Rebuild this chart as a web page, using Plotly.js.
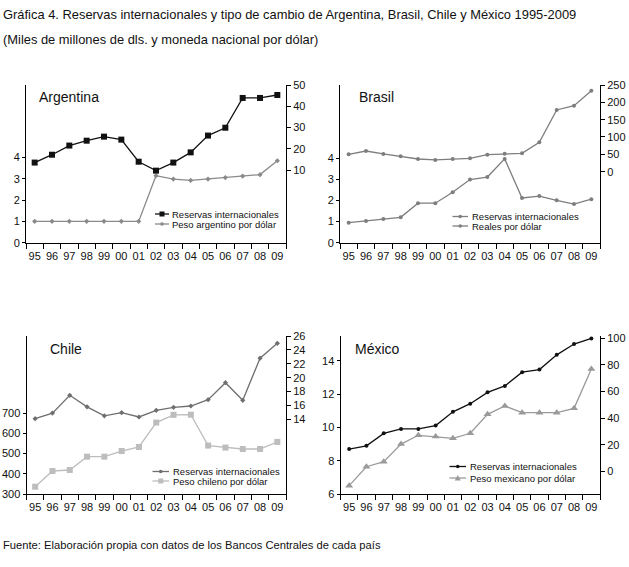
<!DOCTYPE html>
<html>
<head>
<meta charset="utf-8">
<script src="https://cdn.plot.ly/plotly-3.0.1.min.js"></script>
<style>html,body{margin:0;padding:0;background:#fff;}#chart{width:629px;height:567px;}</style>
</head>
<body>
<div id="chart"></div>
<script>
// ---------- DATA ----------
const years = ['95','96','97','98','99','00','01','02','03','04','05','06','07','08','09'];

const argReservas = [13.5, 17.2, 21.5, 23.8, 25.7, 24.3, 13.9, 9.7, 13.5, 18.3, 26.2, 29.9, 43.9, 43.9, 45.3];
const argPeso     = [1.0, 1.0, 1.0, 1.0, 1.0, 1.0, 1.0, 3.14, 2.98, 2.92, 2.98, 3.05, 3.12, 3.19, 3.84];

const braReservas = [50, 59.6, 51, 44.2, 36.5, 33.7, 36.5, 38.5, 49, 52, 52.9, 84.6, 177.9, 190.4, 233.7];
const braReal     = [0.95, 1.03, 1.12, 1.2, 1.87, 1.87, 2.39, 2.99, 3.11, 3.97, 2.12, 2.21, 2.01, 1.83, 2.06];

const chiReservas = [14.1, 14.9, 17.46, 15.8, 14.5, 14.96, 14.34, 15.3, 15.73, 15.92, 16.83, 19.28, 16.74, 22.8, 24.95];
const chiPeso     = [336, 414, 419, 485, 485, 513, 533, 654, 692, 693, 540, 530, 523, 523, 558];

const mexReservas = [16.8, 19.3, 28.6, 31.9, 31.9, 34.4, 44.7, 50.8, 59.3, 64.1, 74.4, 76.4, 87.4, 95.5, 99.7];
const mexPeso     = [6.5, 7.64, 7.94, 9.0, 9.53, 9.45, 9.35, 9.65, 10.79, 11.29, 10.89, 10.89, 10.89, 11.15, 13.52];

const argLeftTicks = [0,1,2,3,4];      const argRightTicks = [10,20,30,40,50];
const braLeftTicks = [0,1,2,3,4];      const braRightTicks = [0,50,100,150,200,250];
const chiLeftTicks = [300,400,500,600,700]; const chiRightTicks = [14,16,18,20,22,24,26];
const mexLeftTicks = [6,8,10,12,14];   const mexRightTicks = [0,20,40,60,80,100];

const titleLine1 = 'Gráfica 4. Reservas internacionales y tipo de cambio de Argentina, Brasil, Chile y México 1995-2009';
const titleLine2 = '(Miles de millones de dls. y moneda nacional por dólar)';
const fuente = 'Fuente: Elaboración propia con datos de los Bancos Centrales de cada país';
const labReservas = 'Reservas internacionales';
const labArg = 'Peso argentino por dólar';
const labBra = 'Reales por dólar';
const labChi = 'Peso chileno por dólar';
const labMex = 'Peso mexicano por dólar';

// ---------- LAYOUT HELPERS ----------
const W = 629, H = 567;
const FONT = 'Liberation Sans, Arial, sans-serif';
const px = x => x / W;
const py = y => 1 - y / H;

function xAxis(x0, x1, anchor) {
  return {
    type: 'category', domain: [px(x0), px(x1)], anchor: anchor,
    range: [-0.5, 14.5], tickson: 'boundaries', ticks: 'outside', ticklen: 5,
    tickangle: 0, ticklabelstandoff: 3, tickcolor: '#000', tickwidth: 1, showline: true, linecolor: '#000', linewidth: 1,
    showgrid: false, zeroline: false, fixedrange: true,
    tickfont: {family: FONT, size: 11, color: '#111'}
  };
}
function yLeft(y0, y1, anchor, range, tv) {
  return {
    domain: [py(y1), py(y0)], anchor: anchor, range: range,
    tickvals: tv, ticktext: tv.map(String), ticks: 'outside', ticklen: 3,
    tickcolor: '#000', showline: true, linecolor: '#000', linewidth: 1,
    showgrid: false, zeroline: false, fixedrange: true,
    tickfont: {family: FONT, size: 11, color: '#111'}
  };
}
function yRight(overlay, anchor, range, tv) {
  return {
    overlaying: overlay, side: 'right', anchor: anchor, range: range,
    tickvals: tv, ticktext: tv.map(String), ticks: 'outside', ticklen: 4,
    tickcolor: '#000', showline: true, linecolor: '#000', linewidth: 1,
    showgrid: false, zeroline: false, fixedrange: true,
    tickfont: {family: FONT, size: 11, color: '#111'}
  };
}

function tr(y, xa, ya, color, sym, size, w) {
  return {
    type: 'scatter', mode: 'lines+markers', x: years, y: y, xaxis: xa, yaxis: ya,
    line: {color: color, width: w || 1.3},
    marker: {symbol: sym, size: size, color: color},
    hoverinfo: 'skip', showlegend: false, cliponaxis: false
  };
}

const data = [
  tr(argPeso, 'x', 'y', '#8a8a8a', 'diamond', 4),
  tr(argReservas, 'x', 'y2', '#111', 'square', 6),
  tr(braReal, 'x2', 'y3', '#7e7e7e', 'circle', 4),
  tr(braReservas, 'x2', 'y4', '#7e7e7e', 'circle', 4),
  tr(chiPeso, 'x3', 'y5', '#bdbdbd', 'square', 6),
  tr(chiReservas, 'x3', 'y6', '#6f6f6f', 'diamond', 4),
  tr(mexPeso, 'x4', 'y7', '#9a9a9a', 'triangle-up', 7),
  tr(mexReservas, 'x4', 'y8', '#111', 'circle', 4)
];

// Pixel geometry of panels
const top1 = 85, bot1 = 242.7, top2 = 336, bot2 = 494;

const layout = {
  width: W, height: H, margin: {l: 0, r: 0, t: 0, b: 0},
  paper_bgcolor: '#fff', plot_bgcolor: 'rgba(0,0,0,0)', showlegend: false,
  font: {family: FONT, color: '#111'},
  xaxis: xAxis(26, 286, 'y'),
  yaxis: yLeft(top1, bot1, 'x', [0, 7.39], argLeftTicks),
  yaxis2: yRight('y', 'x', [-24.2, 50], argRightTicks),
  xaxis2: xAxis(340, 600, 'y3'),
  yaxis3: yLeft(top1, bot1, 'x2', [0, 7.47], braLeftTicks),
  yaxis4: yRight('y3', 'x2', [-205, 250], braRightTicks),
  xaxis3: xAxis(26.5, 286, 'y5'),
  yaxis5: yLeft(top2, bot2, 'x3', [300, 1083], chiLeftTicks),
  yaxis6: yRight('y5', 'x3', [3.25, 26], chiRightTicks),
  xaxis4: xAxis(340.5, 600, 'y7'),
  yaxis7: yLeft(top2, bot2, 'x4', [6, 15.5], mexLeftTicks),
  yaxis8: yRight('y7', 'x4', [-16.8, 101.5], mexRightTicks),
  annotations: [],
  shapes: []
};

function note(text, x, y, size, anchor) {
  layout.annotations.push({
    text: text, xref: 'paper', yref: 'paper', x: px(x), y: py(y),
    xanchor: anchor || 'left', yanchor: 'middle', showarrow: false,
    font: {family: FONT, size: size, color: '#111'}
  });
}
note(titleLine1, 1, 14, 12.9);
note(titleLine2, 1, 39, 12.9);
note(fuente, 1, 545, 11.2);
note('Argentina', 37, 97, 14);
note('Brasil', 357, 97, 14);
note('Chile', 48, 349, 14);
note('México', 353, 349, 14);

// Manual legends (keys + labels)
function key(x0, x1, y, color, shape, textX, text) {
  layout.shapes.push({type: 'line', xref: 'paper', yref: 'paper',
    x0: px(x0), x1: px(x1), y0: py(y), y1: py(y), line: {color: color, width: 1.3}});
  const cx = (x0 + x1) / 2;
  if (shape === 'square') {
    layout.shapes.push({type: 'rect', xref: 'paper', yref: 'paper',
      x0: px(cx - 2.5), x1: px(cx + 2.5), y0: py(y + 2.5), y1: py(y - 2.5),
      fillcolor: color, line: {width: 0}});
  } else if (shape === 'tri') {
    layout.shapes.push({type: 'path', xref: 'paper', yref: 'paper',
      path: `M ${px(cx - 3)} ${py(y + 2.5)} L ${px(cx + 3)} ${py(y + 2.5)} L ${px(cx)} ${py(y - 3)} Z`,
      fillcolor: color, line: {width: 0}});
  } else {
    layout.shapes.push({type: 'circle', xref: 'paper', yref: 'paper',
      x0: px(cx - 1.8), x1: px(cx + 1.8), y0: py(y + 1.8), y1: py(y - 1.8),
      fillcolor: color, line: {width: 0}});
  }
  note(text, textX, y, 9.5);
}
key(155, 169, 214, '#111', 'square', 170, labReservas);
key(155, 169, 224, '#8a8a8a', 'dot', 170, labArg);
key(452.5, 468, 216.5, '#7e7e7e', 'dot', 469.5, labReservas);
key(452.5, 468, 226, '#7e7e7e', 'dot', 469.5, labBra);
key(152.5, 169, 471.5, '#6f6f6f', 'dot', 171, labReservas);
key(152.5, 169, 481, '#bdbdbd', 'square', 171, labChi);
key(449.5, 466, 466.5, '#111', 'dot', 468, labReservas);
key(449.5, 466, 478, '#9a9a9a', 'tri', 468, labMex);

Plotly.newPlot('chart', data, layout, {staticPlot: true, displayModeBar: false});
</script>
</body>
</html>
